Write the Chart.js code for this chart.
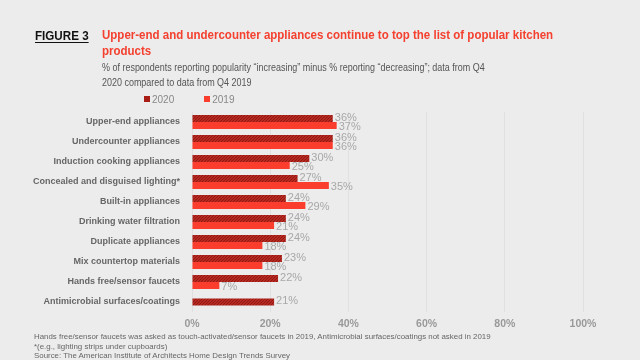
<!DOCTYPE html>
<html><head><meta charset="utf-8">
<script src="https://cdn.jsdelivr.net/npm/chart.js@4"></script>
<style>
html,body{margin:0;padding:0;background:#ececec;}
#wrap{position:relative;width:640px;height:360px;overflow:hidden;background:#ececec;font-family:"Liberation Sans",sans-serif;}
canvas{position:absolute;left:0;top:0;}
.t{position:absolute;white-space:nowrap;transform-origin:0 0;}
#fig{left:35px;top:29px;font-weight:bold;font-size:12.5px;color:#111;text-decoration:underline;text-underline-offset:2px;transform:scaleX(0.93);}
#title{left:102px;top:27px;font-weight:bold;font-size:12.8px;color:#f4402f;line-height:16px;transform:scaleX(0.9);}
#sub{left:102px;top:60px;font-size:11px;color:#555;line-height:15px;transform:scaleX(0.815);}
#legend{left:144px;top:94px;font-size:10px;color:#888;}
.sw{display:inline-block;width:6px;height:6px;margin-right:2px;vertical-align:1px;}
#foot{left:34px;top:332px;font-size:7.9px;color:#666;line-height:9.6px;}
</style></head><body>
<div id="wrap">
<canvas id="c" width="640" height="360"></canvas>
<div class="t" id="fig">FIGURE 3</div>
<div class="t" id="title">Upper-end and undercounter appliances continue to top the list of popular kitchen<br>products</div>
<div class="t" id="sub">% of respondents reporting popularity “increasing” minus % reporting “decreasing”; data from Q4<br>2020 compared to data from Q4 2019</div>
<div class="t" id="legend"><span class="sw" style="background:#a81e16"></span>2020<span style="display:inline-block;width:30px"></span><span class="sw" style="background:#fb3d2e"></span>2019</div>
<div class="t" id="foot">Hands free/sensor faucets was asked as touch-activated/sensor faucets in 2019, Antimicrobial surfaces/coatings not asked in 2019<br>*(e.g., lighting strips under cupboards)<br>Source: The American Institute of Architects Home Design Trends Survey</div>
</div>
<script>
const categories = ["Upper-end appliances","Undercounter appliances","Induction cooking appliances","Concealed and disguised lighting*","Built-in appliances","Drinking water filtration","Duplicate appliances","Mix countertop materials","Hands free/sensor faucets","Antimicrobial surfaces/coatings"];
const values2020 = [36,36,30,27,24,24,24,23,22,21];
const values2019 = [37,36,25,35,29,21,18,18,7,null];
const xTicks = [0,20,40,60,80,100];

function hatch(){
  const p=document.createElement('canvas');p.width=6;p.height=6;
  const g=p.getContext('2d');
  g.fillStyle='#c8302a';g.fillRect(0,0,6,6);
  g.strokeStyle='#8e1a12';g.lineWidth=1.2;
  g.beginPath();
  for(let k=-6;k<=12;k+=3){g.moveTo(k,6);g.lineTo(k+6,0);}
  g.stroke();
  return g.createPattern(p,'repeat');
}
const ctx=document.getElementById('c').getContext('2d');
const labelPlugin={id:'lbl',afterDatasetsDraw(chart){
  const c=chart.ctx;c.save();c.font='11px "Liberation Sans", sans-serif';c.fillStyle='#a8a8a8';c.textBaseline='middle';
  chart.data.datasets.forEach((ds,i)=>{
    chart.getDatasetMeta(i).data.forEach((el,j)=>{
      const v=ds.data[j]; if(v==null) return;
      c.fillText(v+'%',el.x+2,el.y+(i===0?-1:1));
    });
  });
  c.restore();
}};
new Chart(ctx,{type:'bar',
  data:{labels:categories,datasets:[
    {label:'2020',data:values2020,backgroundColor:hatch(),skipNull:true,categoryPercentage:0.7,barPercentage:1.0,maxBarThickness:7},
    {label:'2019',data:values2019,backgroundColor:'#fb3d2e',skipNull:true,categoryPercentage:0.7,barPercentage:1.0,maxBarThickness:7}
  ]},
  options:{indexAxis:'y',responsive:false,animation:false,
    layout:{padding:{left:0,right:57,top:112,bottom:26}},
    plugins:{legend:{display:false},tooltip:{enabled:false}},
    scales:{
      x:{min:0,max:100,afterBuildTicks(s){s.ticks=xTicks.map(v=>({value:v}));},
        ticks:{callback:v=>v+'%',color:'#999',font:{family:'"Liberation Sans", sans-serif',size:10.5,weight:'bold'},padding:6,maxRotation:0},
        grid:{color:'#e0e0e0',drawTicks:false},border:{display:false},
        afterFit(s){s.height=22;}},
      y:{ticks:{color:'#666',font:{family:'"Liberation Sans", sans-serif',size:9,weight:'bold'},padding:4,autoSkip:false},
        grid:{display:false},border:{display:false},
        afterFit(s){s.width=192;}}
    }
  },plugins:[labelPlugin]});
</script>
</body></html>
